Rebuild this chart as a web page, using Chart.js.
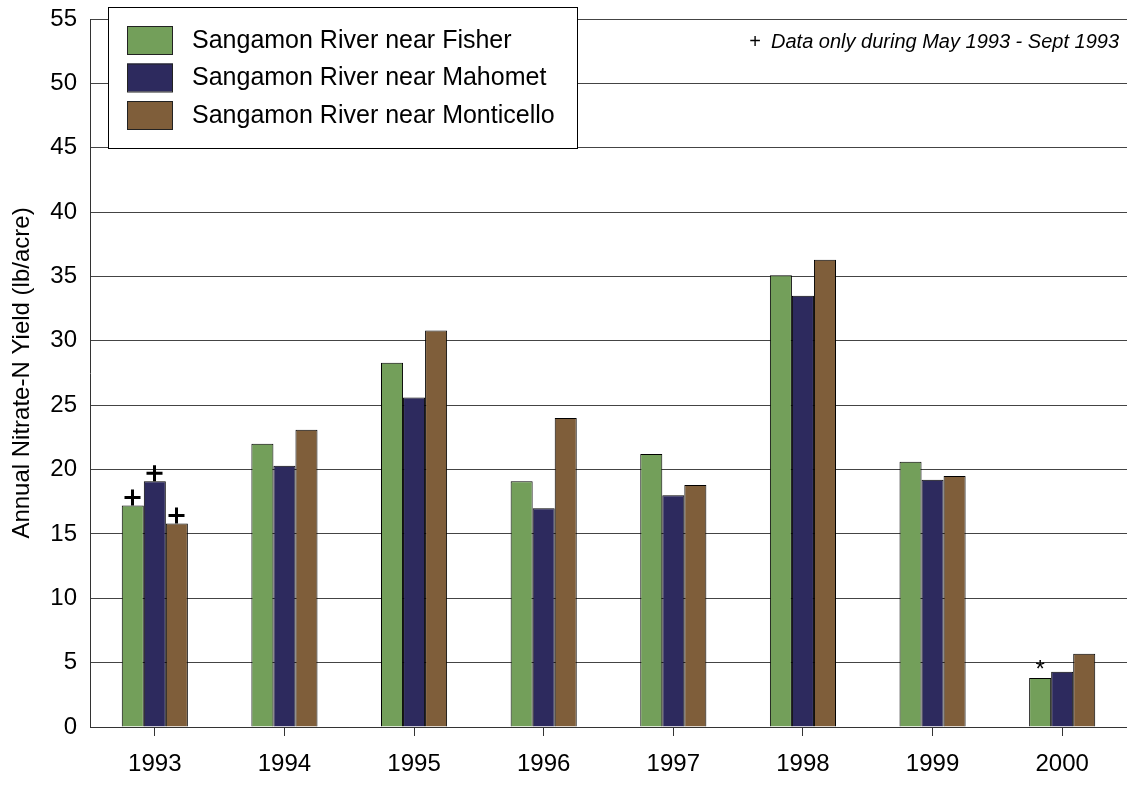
<!DOCTYPE html>
<html>
<head>
<meta charset="utf-8">
<title>Annual Nitrate-N Yield</title>
<script src="https://cdn.jsdelivr.net/npm/chart.js@4"></script>
<style>
  html, body { margin: 0; padding: 0; background: #fff; }
  #wrap { width: 1127px; height: 787px; position: relative; }
</style>
</head>
<body>
<div id="wrap"><canvas id="bar-chart" width="1127" height="787"></canvas></div>
<script>
// Chart data
var years = ['1993', '1994', '1995', '1996', '1997', '1998', '1999', '2000'];
var fisher = [17.2, 22.0, 28.3, 19.1, 21.2, 35.1, 20.6, 3.8];
var mahomet = [19.1, 20.3, 25.6, 17.0, 18.0, 33.5, 19.2, 4.3];
var monticello = [15.8, 23.1, 30.8, 24.0, 18.8, 36.3, 19.5, 5.7];
var seriesNames = ['Sangamon River near Fisher', 'Sangamon River near Mahomet', 'Sangamon River near Monticello'];
var seriesColors = ['#739f5a', '#2d2a5e', '#7f5e3a'];
var yTicks = [0, 5, 10, 15, 20, 25, 30, 35, 40, 45, 50, 55];
// marker symbols drawn above bars: [dataset index, year index, symbol]
var barMarks = [[0, 0, '+'], [1, 0, '+'], [2, 0, '+'], [0, 7, '*']];
var noteText = 'Data only during May 1993 - Sept 1993';

var FONT = 'Liberation Sans, Arial, sans-serif';

// Draws legend box, note and markers on top of the bars
var overlayPlugin = {
  id: 'overlay',
  afterDraw: function (chart) {
    var ctx = chart.ctx;
    ctx.save();

    // markers above bars
    barMarks.forEach(function (m) {
      var bar = chart.getDatasetMeta(m[0]).data[m[1]];
      ctx.fillStyle = '#000';
      ctx.strokeStyle = '#000';
      if (m[2] === '+') {
        // plus sign sitting on the bar top
        var cx = Math.round(bar.x) - 0.5, top = bar.y - 16;
        ctx.lineWidth = 3;
        ctx.beginPath();
        ctx.moveTo(cx - 8, top + 8);
        ctx.lineTo(cx + 8, top + 8);
        ctx.moveTo(cx, top);
        ctx.lineTo(cx, top + 16);
        ctx.stroke();
      } else {
        ctx.textAlign = 'center';
        ctx.textBaseline = 'middle';
        ctx.font = '24px ' + FONT;
        ctx.fillText('*', bar.x, bar.y - 8);
      }
    });

    // note at top right
    ctx.fillStyle = '#000';
    ctx.textBaseline = 'middle';
    ctx.textAlign = 'right';
    ctx.font = 'italic 20px ' + FONT;
    var noteW = ctx.measureText(noteText).width;
    ctx.fillText(noteText, 1119, 42);
    ctx.font = '20px ' + FONT;
    ctx.fillText('+', 1119 - noteW - 10, 42);

    // legend box
    ctx.fillStyle = '#fff';
    ctx.fillRect(108, 7, 469, 141);
    ctx.strokeStyle = '#000';
    ctx.lineWidth = 1;
    ctx.strokeRect(108.5, 7.5, 469, 141);
    ctx.textAlign = 'left';
    ctx.font = '25px ' + FONT;
    for (var i = 0; i < seriesNames.length; i++) {
      var cy = 40 + i * 37.5;
      ctx.fillStyle = seriesColors[i];
      ctx.fillRect(127, cy - 14, 46, 28);
      ctx.strokeStyle = '#222';
      ctx.strokeRect(127.5, cy - 13.5, 45, 28);
      ctx.fillStyle = '#000';
      ctx.fillText(seriesNames[i], 192, cy + 1);
    }
    ctx.restore();
  }
};

var ctx = document.getElementById('bar-chart').getContext('2d');
new Chart(ctx, {
  type: 'bar',
  data: {
    labels: years,
    datasets: [
      { label: seriesNames[0], data: fisher, backgroundColor: seriesColors[0] },
      { label: seriesNames[1], data: mahomet, backgroundColor: seriesColors[1] },
      { label: seriesNames[2], data: monticello, backgroundColor: seriesColors[2] }
    ].map(function (d) {
      d.borderColor = '#000';
      d.borderWidth = 1;
      d.categoryPercentage = 0.51;
      d.barPercentage = 1.0;
      return d;
    })
  },
  options: {
    responsive: false,
    animation: false,
    layout: { padding: { top: 19, right: 0, left: 0, bottom: 0 } },
    plugins: {
      legend: { display: false },
      tooltip: { enabled: false }
    },
    scales: {
      x: {
        grid: {
          offset: false,
          drawOnChartArea: false,
          drawTicks: true,
          tickLength: 9,
          color: '#333'
        },
        border: { display: true, color: '#333', width: 1 },
        ticks: {
          color: '#000',
          font: { family: FONT, size: 24 },
          padding: 14,
          maxRotation: 0
        },
        afterFit: function (scale) {
          scale.height = 60;
          scale.paddingLeft = 0;
          scale.paddingRight = 0;
        }
      },
      y: {
        min: 0,
        max: 55,
        afterBuildTicks: function (scale) {
          scale.ticks = yTicks.map(function (v) { return { value: v }; });
        },
        grid: {
          drawTicks: false,
          color: '#444',
          lineWidth: 1
        },
        border: { display: true, color: '#333', width: 1 },
        ticks: {
          color: '#000',
          font: { family: FONT, size: 24 },
          padding: 13
        },
        title: {
          display: true,
          text: 'Annual Nitrate-N Yield (lb/acre)',
          color: '#000',
          font: { family: FONT, size: 24 },
          padding: { top: 8, bottom: 0 }
        },
        afterFit: function (scale) {
          scale.width = 90;
          scale.paddingTop = 0;
          scale.paddingBottom = 0;
        }
      }
    }
  },
  plugins: [overlayPlugin]
});
</script>
</body>
</html>
